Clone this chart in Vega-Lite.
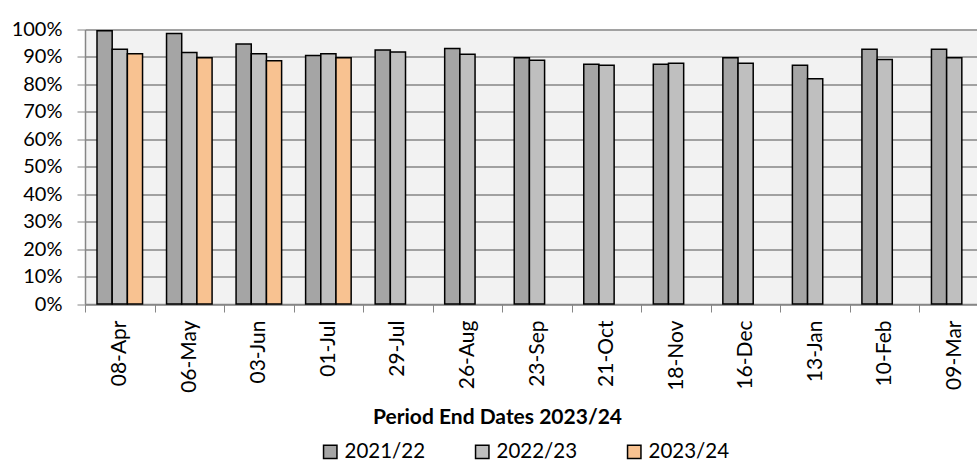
{
  "$schema": "https://vega.github.io/schema/vega-lite/v6.json",
  "width": 904,
  "height": 274.5,
  "autosize": {"type": "none"},
  "padding": {"left": 85, "top": 29.5, "right": -12, "bottom": 171},
  "background": "white",
  "config": {
    "font": "Lato",
    "view": {"fill": "#F2F2F2", "stroke": null},
    "axis": {"labelColor": "#000000", "titleColor": "#000000", "labelFont": "Lato", "titleFont": "Lato"},
    "legend": {"labelFont": "Lato"}
  },
  "data": {
    "values": [
      {"date": "08-Apr", "season": "2021/22", "value": 0.995},
      {"date": "08-Apr", "season": "2022/23", "value": 0.928},
      {"date": "08-Apr", "season": "2023/24", "value": 0.912},
      {"date": "06-May", "season": "2021/22", "value": 0.985},
      {"date": "06-May", "season": "2022/23", "value": 0.916},
      {"date": "06-May", "season": "2023/24", "value": 0.897},
      {"date": "03-Jun", "season": "2021/22", "value": 0.947},
      {"date": "03-Jun", "season": "2022/23", "value": 0.912},
      {"date": "03-Jun", "season": "2023/24", "value": 0.886},
      {"date": "01-Jul", "season": "2021/22", "value": 0.905},
      {"date": "01-Jul", "season": "2022/23", "value": 0.912},
      {"date": "01-Jul", "season": "2023/24", "value": 0.897},
      {"date": "29-Jul", "season": "2021/22", "value": 0.925},
      {"date": "29-Jul", "season": "2022/23", "value": 0.918},
      {"date": "26-Aug", "season": "2021/22", "value": 0.931},
      {"date": "26-Aug", "season": "2022/23", "value": 0.910},
      {"date": "23-Sep", "season": "2021/22", "value": 0.897},
      {"date": "23-Sep", "season": "2022/23", "value": 0.888},
      {"date": "21-Oct", "season": "2021/22", "value": 0.873},
      {"date": "21-Oct", "season": "2022/23", "value": 0.870},
      {"date": "18-Nov", "season": "2021/22", "value": 0.873},
      {"date": "18-Nov", "season": "2022/23", "value": 0.877},
      {"date": "16-Dec", "season": "2021/22", "value": 0.897},
      {"date": "16-Dec", "season": "2022/23", "value": 0.877},
      {"date": "13-Jan", "season": "2021/22", "value": 0.870},
      {"date": "13-Jan", "season": "2022/23", "value": 0.821},
      {"date": "10-Feb", "season": "2021/22", "value": 0.928},
      {"date": "10-Feb", "season": "2022/23", "value": 0.891},
      {"date": "09-Mar", "season": "2021/22", "value": 0.928},
      {"date": "09-Mar", "season": "2022/23", "value": 0.897}
    ]
  },
  "mark": {"type": "bar", "stroke": "#000000", "strokeWidth": 1.5},
  "encoding": {
    "x": {
      "field": "date",
      "type": "nominal",
      "sort": ["08-Apr", "06-May", "03-Jun", "01-Jul", "29-Jul", "26-Aug", "23-Sep", "21-Oct", "18-Nov", "16-Dec", "13-Jan", "10-Feb", "09-Mar"],
      "scale": {"paddingInner": 0, "paddingOuter": 0},
      "axis": {
        "title": "Period End Dates 2023/24",
        "titleFontSize": 21,
        "titleFontWeight": "bold",
        "titleX": 412,
        "titleY": 119,
        "titleAlign": "center",
        "titleBaseline": "alphabetic",
        "labelAngle": -90,
        "labelAlign": "right",
        "labelBaseline": "middle",
        "labelFontSize": 21,
        "labelPadding": 8,
        "tickBand": "extent",
        "tickSize": 8,
        "tickColor": "#868686",
        "domainColor": "#868686",
        "domainWidth": 1.5,
        "grid": false
      }
    },
    "xOffset": {
      "field": "season",
      "type": "nominal",
      "scale": {"domain": ["2021/22", "2022/23", "2023/24"], "paddingInner": 0, "paddingOuter": 0.79}
    },
    "y": {
      "field": "value",
      "type": "quantitative",
      "scale": {"domain": [0, 1], "nice": false},
      "axis": {
        "title": null,
        "format": ".0%",
        "values": [0, 0.1, 0.2, 0.3, 0.4, 0.5, 0.6, 0.7, 0.8, 0.9, 1],
        "labelFontSize": 20,
        "labelPadding": 15,
        "tickSize": 8,
        "tickColor": "#868686",
        "domainColor": "#868686",
        "domainWidth": 1.5,
        "grid": true,
        "gridColor": "#868686",
        "gridWidth": 1.5
      }
    },
    "color": {
      "field": "season",
      "type": "nominal",
      "scale": {"domain": ["2021/22", "2022/23", "2023/24"], "range": ["#A5A5A5", "#BFBFBF", "#F8C291"]},
      "legend": {
        "title": null,
        "orient": "none",
        "legendX": 235,
        "legendY": 412,
        "direction": "horizontal",
        "symbolType": "square",
        "symbolSize": 180,
        "symbolStrokeColor": "#000000",
        "symbolStrokeWidth": 1.5,
        "symbolOpacity": 1,
        "labelFontSize": 20.5,
        "labelOffset": 4,
        "columnPadding": 46
      }
    }
  }
}
